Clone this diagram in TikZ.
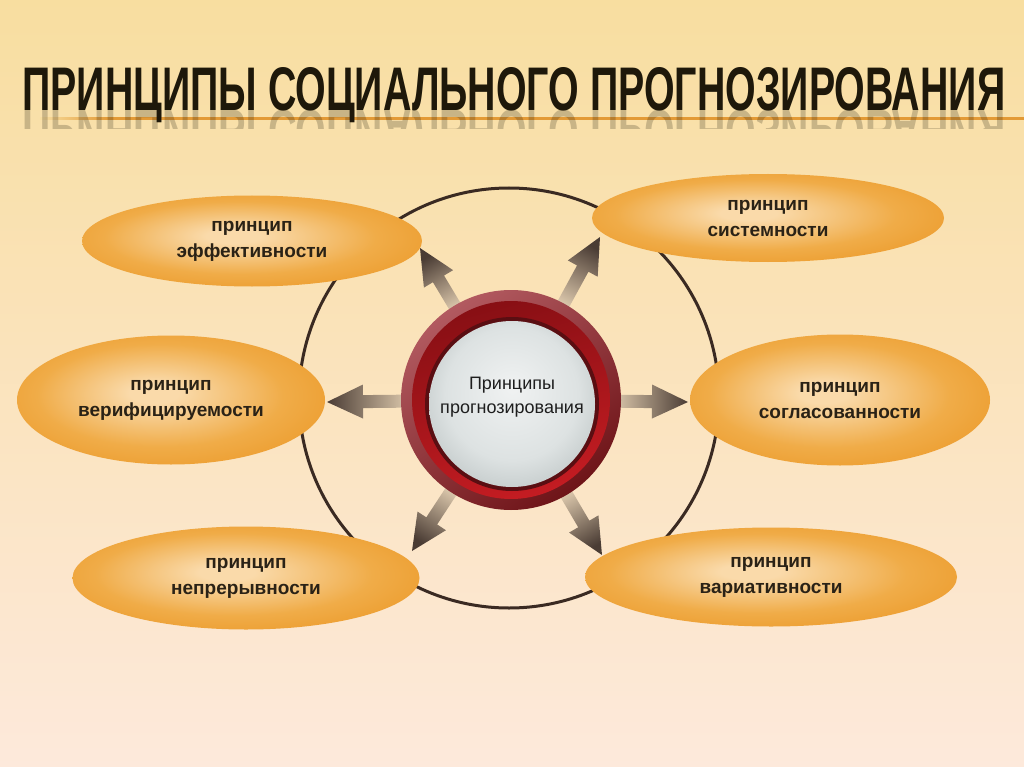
\documentclass[tikz,border=0pt]{standalone}
\usepackage{fontspec}
\usepackage{graphicx}
\setmainfont{Liberation Sans}
\usetikzlibrary{shapes.geometric,calc}

\definecolor{bgtop}{HTML}{F8DEA0}
\definecolor{bgmid}{HTML}{FCDDBA}
\definecolor{bgbot}{HTML}{FDE9DB}
\definecolor{titlec}{HTML}{1E180A}
\definecolor{linec}{HTML}{E39A36}
\definecolor{orbitc}{HTML}{3A2A22}
\definecolor{ellin}{HTML}{FADAAA}
\definecolor{ellin2}{HTML}{F5C680}
\definecolor{ellmid}{HTML}{F0AC48}
\definecolor{ellout}{HTML}{EDA034}
\definecolor{ellrim}{HTML}{EA9A2A}
\definecolor{etext}{HTML}{2A2216}
\definecolor{arrdark}{HTML}{4A3C34}
\definecolor{arrlight}{HTML}{DDC9AD}
\definecolor{ringlt}{HTML}{B25A60}
\definecolor{ringdk}{HTML}{6E1418}
\definecolor{bandtop}{HTML}{880F14}
\definecolor{bandbot}{HTML}{C41C22}
\definecolor{rimc}{HTML}{5A0E12}
\definecolor{silA}{HTML}{F0F2F2}
\definecolor{silB}{HTML}{DDE2E2}
\definecolor{silC}{HTML}{C2C9C9}
\definecolor{silD}{HTML}{8A9292}
\definecolor{ctext}{HTML}{1E1E1E}

\pgfdeclareradialshading{ellshade}{\pgfpoint{-3bp}{3bp}}{color(0bp)=(ellin); color(4bp)=(ellin); color(11bp)=(ellin2); color(20bp)=(ellmid); color(28bp)=(ellout); color(50bp)=(ellrim)}
\pgfdeclareradialshading{silvershade}{\pgfpoint{0bp}{5bp}}{color(0bp)=(silA); color(20bp)=(silB); color(30bp)=(silC); color(50bp)=(silD)}

\newcommand\flowarrow[3]{%
  \coordinate (#2h) at ($(#2)!36pt!(#1)$);
  \shade[top color=arrdark, bottom color=arrlight, shading angle=#3]
    ($(#1)!6.5pt!90:(#2)$) -- ($(#2h)!6.5pt!-90:(#1)$) -- ($(#2h)!17pt!-90:(#1)$)
    -- (#2) -- ($(#2h)!17pt!90:(#1)$) -- ($(#2h)!6.5pt!90:(#1)$)
    -- ($(#1)!6.5pt!-90:(#2)$) -- cycle;}

\tikzset{
  principle/.style={ellipse, inner sep=0pt, shade, shading=ellshade, align=center,
    font=\fontsize{19}{26}\selectfont\bfseries, text=etext},
  titletext/.style={anchor=base west, inner sep=0pt, text=titlec},
}

\begin{document}
\begin{tikzpicture}[x=1pt,y=-1pt]
% background
\shade[top color=bgtop, middle color=bgmid, bottom color=bgbot] (0,0) rectangle (1024,767);
\useasboundingbox (0,0) rectangle (1024,767);

% title underline
\shade[left color=bgtop, right color=linec] (40,117.3) rectangle (110,119.7);
\fill[linec] (110,117.3) rectangle (1024,119.7);

% title
\node[titletext] (title) at (22,111) {\resizebox{983pt}{43pt}{\bfseries ПРИНЦИПЫ СОЦИАЛЬНОГО ПРОГНОЗИРОВАНИЯ}};
\begin{scope}
  \clip (0,111) rectangle (1024,129);
  \node[titletext, yscale=-1, opacity=0.22] (titlerefl) at (22,111) {\resizebox{983pt}{43pt}{\bfseries ПРИНЦИПЫ СОЦИАЛЬНОГО ПРОГНОЗИРОВАНИЯ}};
\end{scope}

% orbit circle
\node[circle, draw=orbitc, line width=3pt, minimum size=420pt, inner sep=0pt] (orbit) at (509,398) {};

% arrows
\coordinate (rc) at (511,400);
\coordinate (t1) at (420,248);
\coordinate (t2) at (600,237);
\coordinate (t3) at (327,402);
\coordinate (t4) at (688,402);
\coordinate (t5) at (412,551);
\coordinate (t6) at (602,555);
\foreach \i in {1,...,6} {\coordinate (s\i) at ($(rc)!102pt!(t\i)$);}
\flowarrow{s1}{t1}{30.9}
\flowarrow{s2}{t2}{-28.6}
\flowarrow{s3}{t3}{90}
\flowarrow{s4}{t4}{-90}
\flowarrow{s5}{t5}{146.7}
\flowarrow{s6}{t6}{210.4}

% central ring
\shade[top color=ringlt, bottom color=ringdk, shading angle=35] (rc) circle (110);
\shade[top color=bandtop, bottom color=bandbot, shading angle=15] (rc) circle (99);
\fill[rimc] ($(rc)+(1,4)$) circle (87);
\shade[shading=silvershade] ($(rc)+(1,4)$) circle (83);
\node[circle, minimum size=220pt, inner sep=0pt, align=center, text=ctext,
  font=\fontsize{18}{24}\selectfont] (ring) at (512,397) {Принципы\\прогнозирования};

% principle ellipses
\node[principle, minimum width=340pt, minimum height=91pt] (e1) at (252,241) {принцип\\эффективности};
\node[principle, minimum width=352pt, minimum height=88pt] (e2) at (768,218) {принцип\\системности};
\node[principle, minimum width=308pt, minimum height=129pt] (e3) at (171,400) {принцип\\верифицируемости};
\node[principle, minimum width=300pt, minimum height=131pt] (e4) at (840,400) {принцип\\согласованности};
\node[principle, minimum width=347pt, minimum height=103pt] (e5) at (246,578) {принцип\\непрерывности};
\node[principle, minimum width=372pt, minimum height=99pt] (e6) at (771,577) {принцип\\вариативности};
\end{tikzpicture}
\end{document}
